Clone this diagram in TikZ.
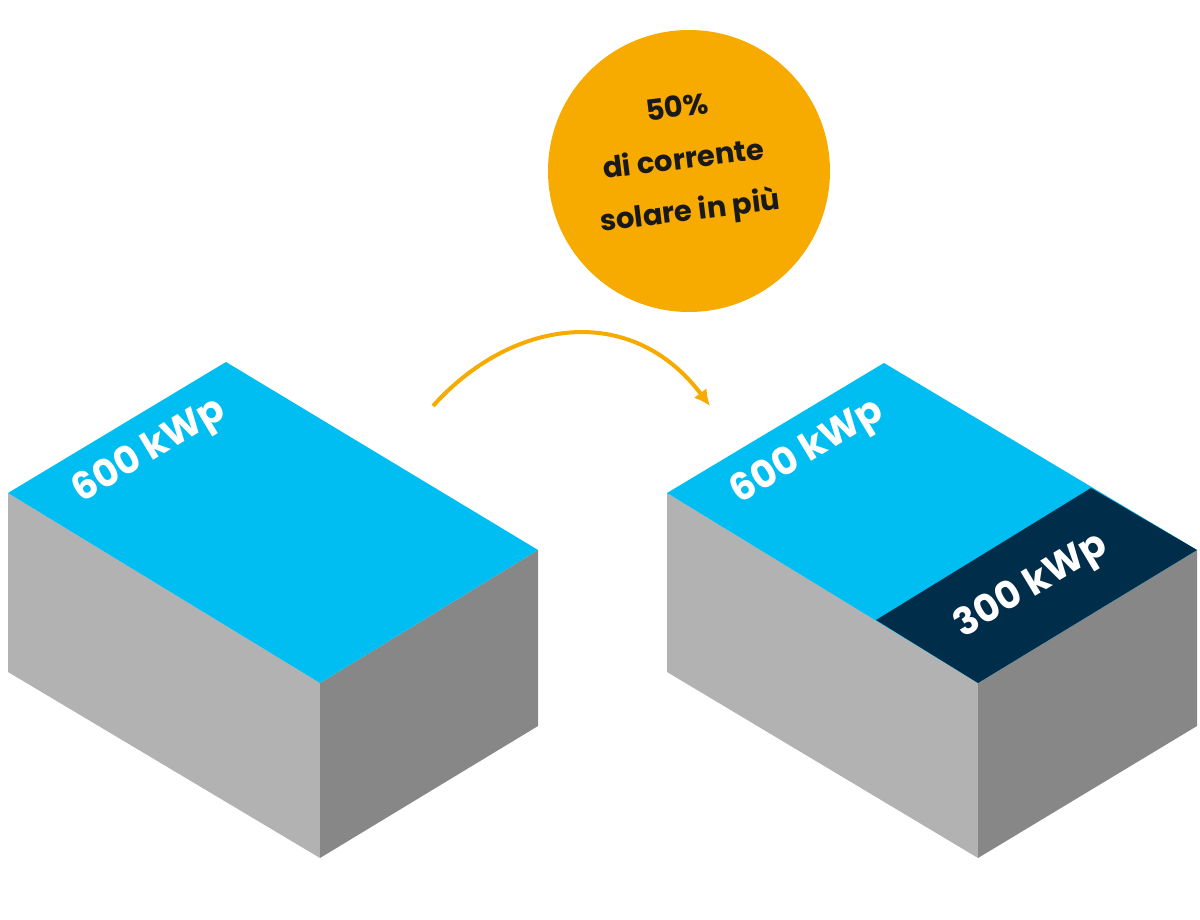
\documentclass[tikz,border=0pt]{standalone}
\usepackage{fontspec}
\setmainfont{Poppins}
\usetikzlibrary{arrows.meta}
\begin{document}
\begin{tikzpicture}[x=1pt,y=-1pt,
  top/.style={fill=topc},lside/.style={fill=lgrey},rside/.style={fill=dgrey},
  lab/.style={text=white,font=\bfseries\fontsize{38}{44}\selectfont,rotate=31,inner sep=0pt},
  ctext/.style={text=black!90,font=\bfseries\fontsize{29}{52}\selectfont,align=center,rotate=7}]
\definecolor{topc}{HTML}{00BDF2}\definecolor{darkc}{HTML}{002E4A}
\definecolor{lgrey}{HTML}{B2B2B2}\definecolor{dgrey}{HTML}{878787}
\definecolor{orangec}{HTML}{F7AA00}
\useasboundingbox (0,0) rectangle (1200,920);
% left box
\fill[lside] (8,493) -- (320,683) -- (320,858) -- (8,672) -- cycle;
\fill[rside] (320,683) -- (538,550) -- (538,726) -- (320,858) -- cycle;
\fill[top] (8,493) -- (226,362) -- (538,550) -- (320,683) -- cycle;
\node[lab] (a) at (150,452) {600 kWp};
% right box
\fill[lside] (667,493) -- (978,683) -- (978,858) -- (667,672) -- cycle;
\fill[rside] (978,683) -- (1197,550) -- (1197,726) -- (978,858) -- cycle;
\fill[top] (667,493) -- (884,363) -- (1197,550) -- (978,683) -- cycle;
\fill[darkc] (876,620) -- (1091,488) -- (1197,550) -- (978,683) -- cycle;
\node[lab] (b) at (808,453) {600 kWp};
\node[lab] (c) at (1032,587) {300 kWp};
% circle
\node[circle,fill=orangec,minimum size=282pt,inner sep=0pt] (o) at (689,171) {};
\node[ctext] (t) at (684,162) {50\%\\di corrente\\solare in più};
% arrow
\coordinate (s) at (433,406);
\coordinate (e) at (710,406);
\draw[orangec,line width=4pt,-{Latex[length=16pt,width=16pt]}] (s) .. controls (510,320) and (630,300) .. (e);
\end{tikzpicture}
\end{document}
